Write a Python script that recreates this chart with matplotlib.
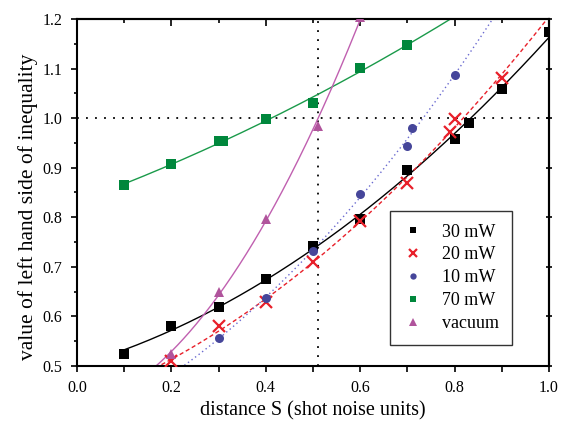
import numpy as np
import matplotlib
matplotlib.use("Agg")
import matplotlib.pyplot as plt
from matplotlib.ticker import MultipleLocator, NullFormatter

plt.rcParams['font.family'] = ['Liberation Serif', 'DejaVu Serif']

# data
x30 = [0.1, 0.2, 0.3, 0.4, 0.5, 0.6, 0.7, 0.8, 0.83, 0.9, 1.0]
y30 = [0.524, 0.581, 0.619, 0.675, 0.743, 0.796, 0.896, 0.958, 0.990, 1.058, 1.173]

x20 = [0.2, 0.3, 0.4, 0.5, 0.6, 0.7, 0.79, 0.8, 0.9]
y20 = [0.510, 0.580, 0.629, 0.709, 0.793, 0.869, 0.973, 0.998, 1.081]

x10 = [0.3, 0.4, 0.5, 0.6, 0.7, 0.71, 0.8]
y10 = [0.556, 0.637, 0.732, 0.847, 0.944, 0.981, 1.088]

x70 = [0.1, 0.2, 0.3, 0.31, 0.4, 0.5, 0.6, 0.7]
y70 = [0.866, 0.907, 0.953, 0.953, 0.998, 1.031, 1.101, 1.147]

xvac = [0.2, 0.3, 0.4, 0.51, 0.6]
yvac = [0.525, 0.650, 0.796, 0.985, 1.205]

series = [
    # label, x, y, marker, marker color, line color, line style, fit range
    ("30 mW", x30, y30, "s", "black", "black", "-", (0.1, 1.0)),
    ("20 mW", x20, y20, "x", "#e8202a", "#e8202a", (0, (3, 2)), (0.1, 1.0)),
    ("10 mW", x10, y10, "o", "#46469a", "#6a6ad0", (0, (1, 2.2)), (0.15, 0.95)),
    ("70 mW", x70, y70, "s", "#00873c", "#1a9a4a", "-", (0.1, 0.85)),
    ("vacuum", xvac, yvac, "^", "#b0549c", "#c060b0", "-", (0.15, 0.65)),
]

fig = plt.figure(figsize=(5.64, 4.24), dpi=100)
ax = fig.add_axes([0.1365, 0.1368, 0.8369, 0.8184])

ax.axhline(1.0, color="black", linestyle=(0, (1, 4)), linewidth=1.3, zorder=1)
ax.axvline(0.51, color="black", linestyle=(0, (1, 4)), linewidth=1.3, zorder=1)

handles = []
for label, xs, ys, mk, mc, lc, ls, (x0, x1) in series:
    coef = np.polyfit(xs, ys, 2)
    xf = np.linspace(x0, x1, 200)
    ax.plot(xf, np.polyval(coef, xf), color=lc, linestyle=ls, linewidth=1.0, zorder=2)
    if mk == "x":
        h = ax.plot(xs, ys, linestyle="none", marker=mk, markersize=8,
                    markeredgewidth=1.6, color=mc, label=label, zorder=3)[0]
    else:
        ms = 7.5 if mk == "^" else 6.5
        h = ax.plot(xs, ys, linestyle="none", marker=mk, markersize=ms,
                    markeredgewidth=0, color=mc, label=label, zorder=3)[0]
    handles.append(h)

ax.set_xlim(0.0, 1.0)
ax.set_ylim(0.5, 1.2)
ax.xaxis.set_major_locator(MultipleLocator(0.2))
ax.xaxis.set_minor_locator(MultipleLocator(0.1))
ax.yaxis.set_major_locator(MultipleLocator(0.1))
ax.yaxis.set_minor_locator(MultipleLocator(0.05))
ax.xaxis.set_major_formatter(plt.FormatStrFormatter("%.1f"))
ax.yaxis.set_major_formatter(plt.FormatStrFormatter("%.1f"))
ax.tick_params(which="both", direction="out", top=False, right=False,
               labelsize=11.5, width=1.2)
ax.tick_params(axis="y", which="major", length=4.5, pad=6)
ax.tick_params(axis="y", which="minor", length=2.5)
ax.tick_params(axis="x", which="both", length=4, pad=6)
for sp in ax.spines.values():
    sp.set_linewidth(1.5)

# top axis: inward ticks, right axis: ticks crossing the spine
top = ax.secondary_xaxis("top")
top.xaxis.set_major_locator(MultipleLocator(0.2))
top.xaxis.set_minor_locator(MultipleLocator(0.1))
top.xaxis.set_major_formatter(NullFormatter())
top.tick_params(which="both", direction="in", width=1.2)
top.tick_params(which="major", length=5)
top.tick_params(which="minor", length=3)
top.spines["top"].set_linewidth(1.5)

right = ax.secondary_yaxis("right")
right.yaxis.set_major_locator(MultipleLocator(0.1))
right.yaxis.set_minor_locator(MultipleLocator(0.05))
right.yaxis.set_major_formatter(NullFormatter())
right.tick_params(which="major", direction="inout", length=5, width=1.2)
right.tick_params(which="minor", length=0)
right.spines["right"].set_linewidth(1.5)

ax.set_xlabel("distance S (shot noise units)", fontsize=14.5, labelpad=4)
ax.set_ylabel("value of left hand side of inequality", fontsize=15.5)
ax.yaxis.set_label_coords(-0.082, 0.46)

leg = ax.legend(handles=handles, loc="lower right", bbox_to_anchor=(0.9216, 0.0605),
                borderaxespad=0, fontsize=13, markerscale=0.7, frameon=True,
                fancybox=False, edgecolor="black", handletextpad=1.0,
                labelspacing=0.33, borderpad=0.7, handlelength=1.2)
leg.get_frame().set_linewidth(1.0)

fig.savefig("out.png", dpi=100)
